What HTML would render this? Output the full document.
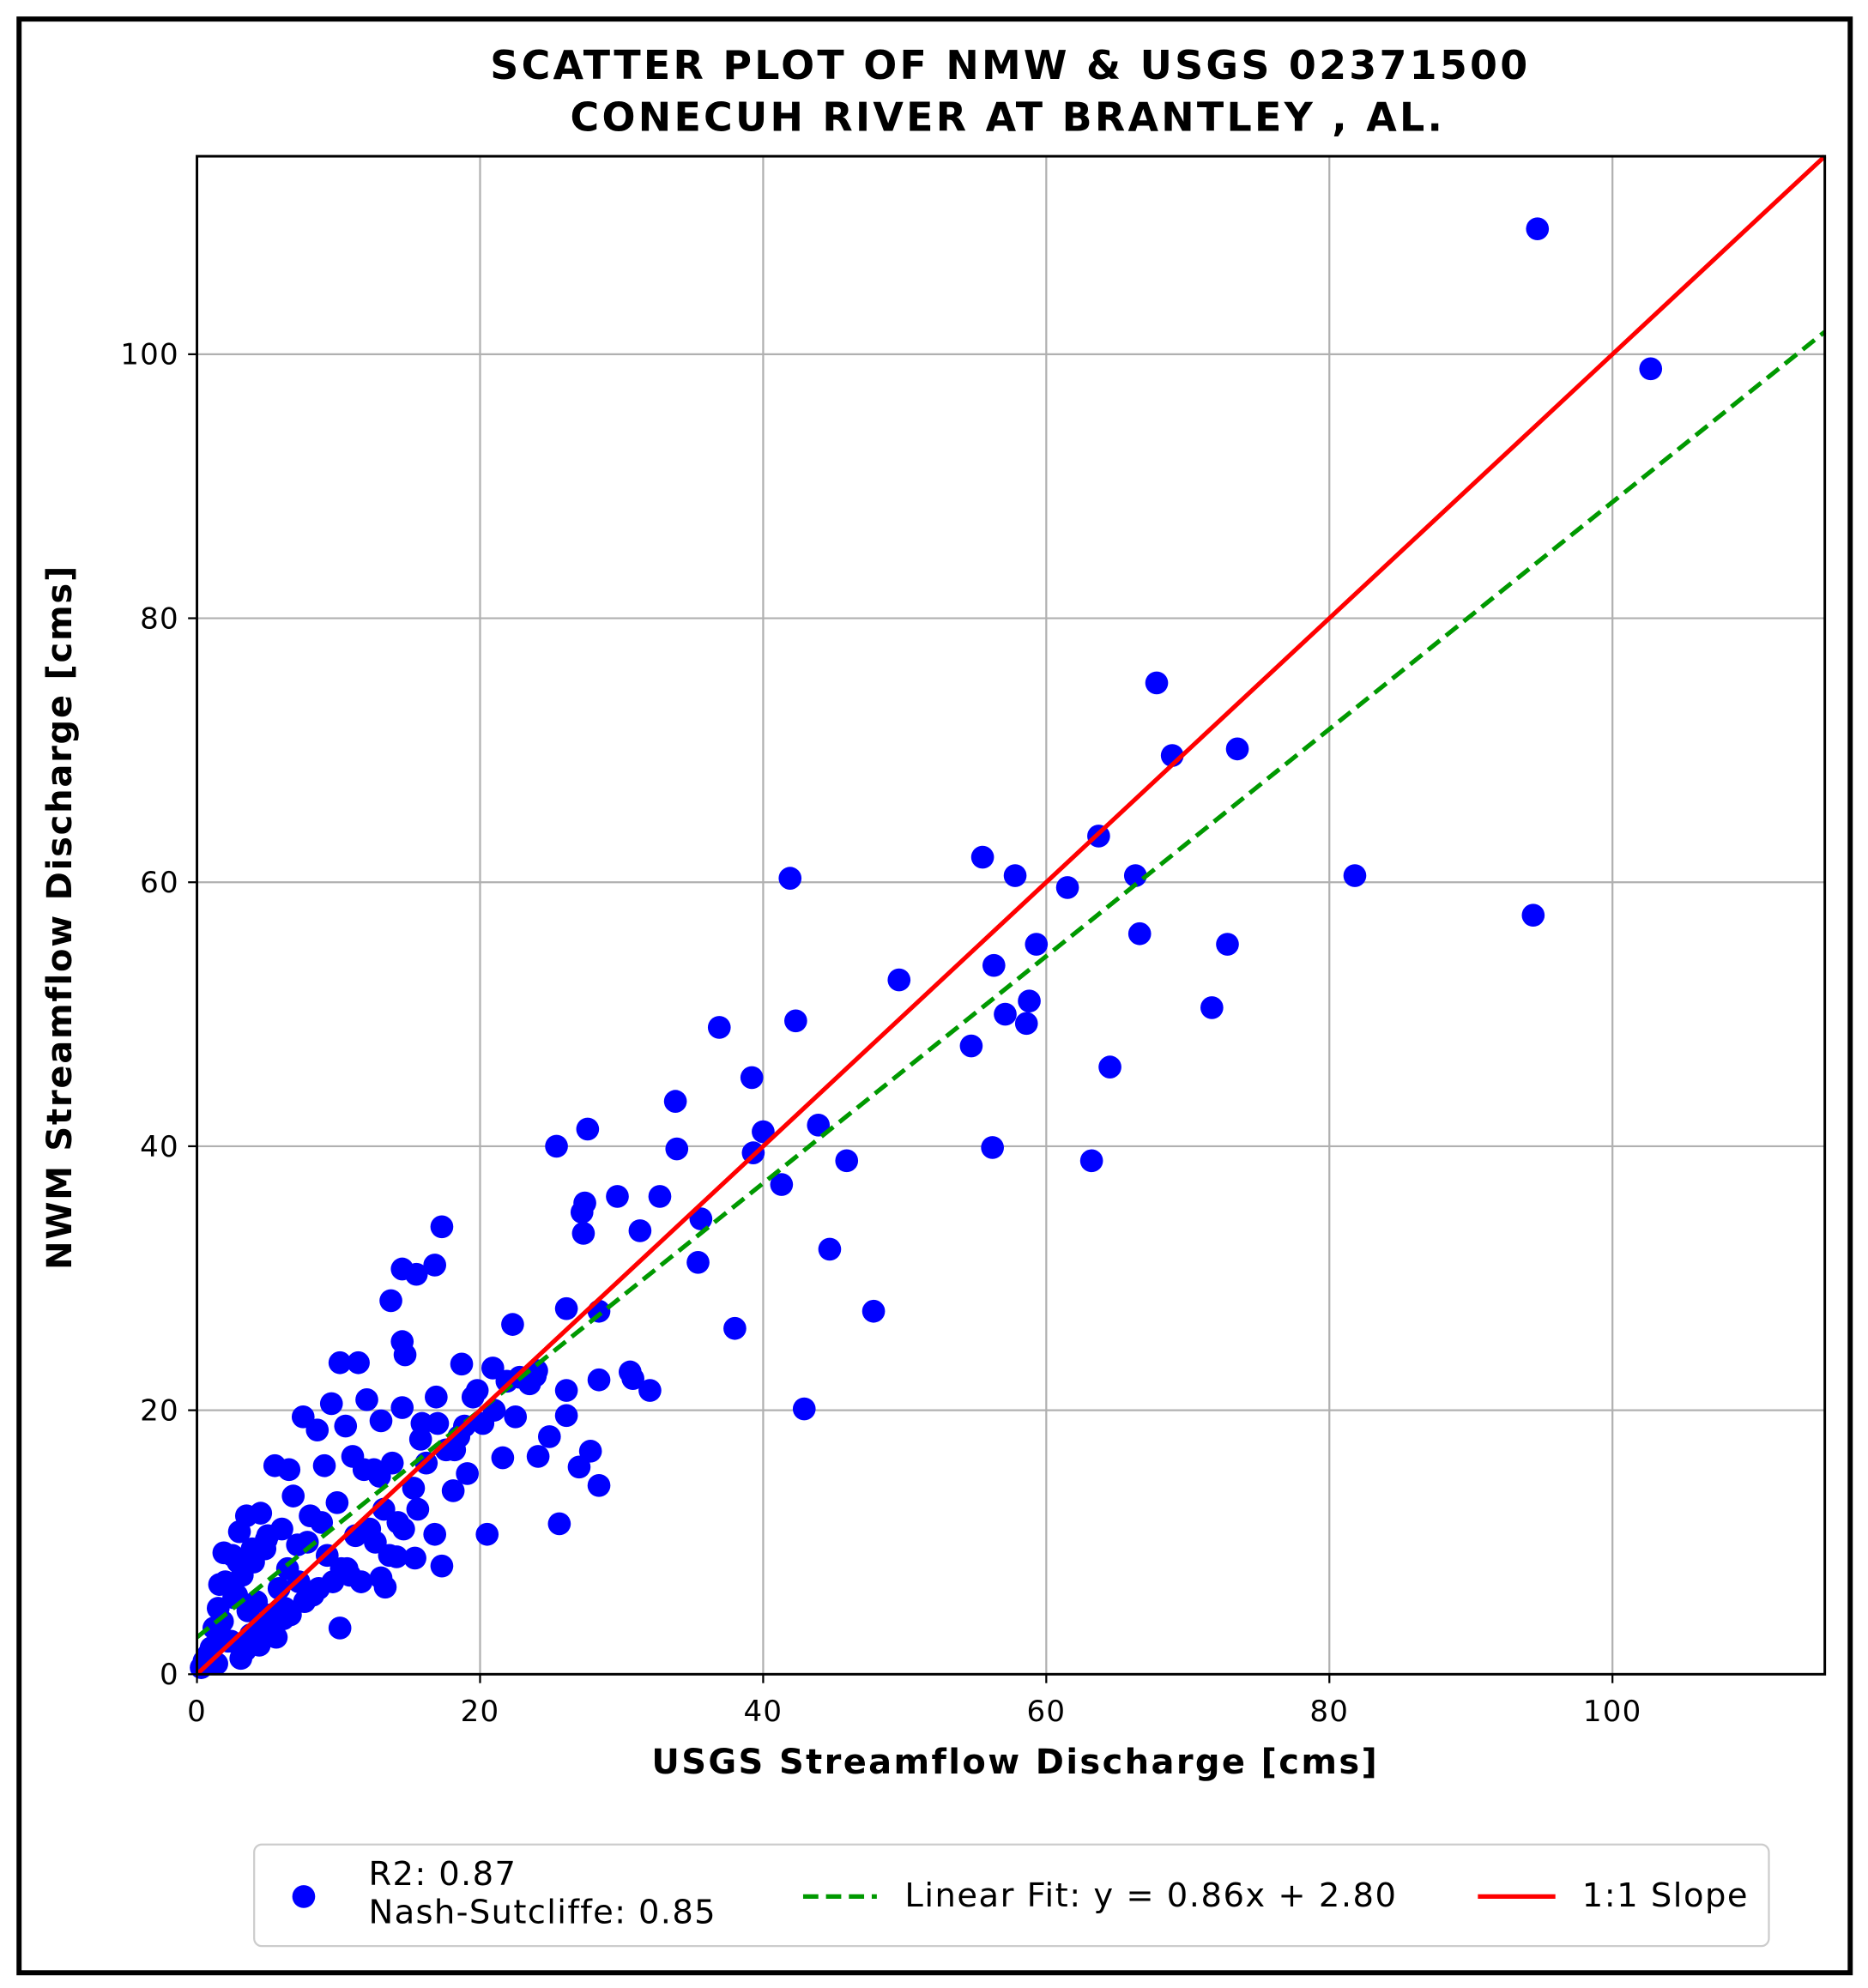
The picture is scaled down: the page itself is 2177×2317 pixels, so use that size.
<!DOCTYPE html>
<html><head><meta charset="utf-8"><style>
html,body{margin:0;padding:0;background:#fff;}
svg{display:block;font-family:"DejaVu Sans","Liberation Sans",sans-serif;}
</style></head><body>
<svg id="chart" width="2177" height="2317" viewBox="0 0 1470 1565" preserveAspectRatio="none" xmlns="http://www.w3.org/2000/svg">
<rect x="0" y="0" width="1470" height="1565" fill="#fff"/>
<rect x="15" y="15" width="1441" height="1538" fill="none" stroke="#000" stroke-width="4"/>
<text x="795" y="62" text-anchor="middle" font-size="31" font-weight="bold" letter-spacing="2.2">SCATTER PLOT OF NMW &amp; USGS 02371500</text>
<text x="793" y="103" text-anchor="middle" font-size="31" font-weight="bold" letter-spacing="2.2">CONECUH RIVER AT BRANTLEY , AL.</text>
<g id="grid"></g>
<g id="marks"></g>
<g id="lines"></g>
<rect x="155" y="123" width="1281" height="1195" fill="none" stroke="#000" stroke-width="2"/>
<g id="ticks"></g>
<text x="799" y="1396" text-anchor="middle" font-size="27" font-weight="bold" letter-spacing="1.6">USGS Streamflow Discharge [cms]</text>
<text transform="translate(56,722) rotate(-90)" text-anchor="middle" font-size="27" font-weight="bold" letter-spacing="1.2">NWM Streamflow Discharge [cms]</text>
<g>
<rect x="200" y="1452" width="1192" height="80" rx="6" fill="#fff" stroke="#ccc" stroke-width="1.5"/>
<circle cx="239" cy="1493" r="9" fill="#0000ff"/>
<text x="290" y="1484" font-size="26" letter-spacing="0.9">R2: 0.87</text>
<text x="290" y="1514" font-size="26" letter-spacing="0.9">Nash-Sutcliffe: 0.85</text>
<line x1="632" y1="1493" x2="690" y2="1493" stroke="#009900" stroke-width="3.5" stroke-dasharray="12,6"/>
<text x="712" y="1501" font-size="26" letter-spacing="1.0">Linear Fit: y = 0.86x + 2.80</text>
<line x1="1163" y1="1493" x2="1224" y2="1493" stroke="#ff0000" stroke-width="3.5"/>
<text x="1245" y="1501" font-size="26" letter-spacing="1.0">1:1 Slope</text>
</g>
</svg>
<script>
const xTicks = [0,20,40,60,80,100];
const yTicks = [0,20,40,60,80,100];
const xVals = [94.7,102.7,67.8,68.9,73.5,63.7,55.5,57.8,66.3,81.8,41.9,61.5,94.4,66.6,59.3,72.8,56.3,49.6,58.8,57.1,71.7,58.6,42.3,36.9,54.7,64.5,39.2,33.8,43.9,40.0,27.6,25.4,33.9,39.3,56.2,45.9,63.2,41.3,32.7,29.7,27.4,27.2,31.3,27.3,35.6,17.3,44.7,35.4,16.8,14.5,15.5,26.1,28.4,47.8,13.7,38.0,22.3,14.5,14.7,10.1,11.4,18.7,20.9,30.6,30.8,32.0,28.4,24.0,42.9,20.5,25.6,28.4,27.8,27.0,24.9,26.1,26.1,24.1,21.6,19.1,18.1,16.8,17.3,15.3,15.4,14.1,13.3,13.0,10.1,
 7.5,8.5,9.5,10.5,12.0,13.0,14.5,15.8,17.0,18.5,19.5,21.0,22.5,23.5,12.5,11.0,9.0,6.5,8.0,5.5,6.0,6.8,4.5,5.0,3.5,3.0,2.5,4.0,2.0,1.5,1.2,2.8,3.2,4.8,5.8,6.2,7.2,8.2,9.2,10.2,11.2,12.2,13.2,14.2,16.2,18.2,20.2,19.8,22.8,8.8,7.8,6.4,5.2,4.2,3.8,2.2,1.8,1.0,0.5,0.8,1.4,2.4,3.4,4.4,5.4,6.6,7.6,8.6,9.6,10.6,11.6,12.6,13.6,14.6,15.6,17.6,9.9,11.8,13.8,5.6,4.6,3.6,2.6,1.6,0.3,3.1,4.1,5.1,6.1,7.1,2.9,3.9,4.9,1.9,10.8,12.9,15.9,16.9,18.9,21.9,23.9];
const yVals = [109.5,98.9,75.1,69.6,70.1,63.5,61.9,60.5,60.5,60.5,60.3,59.6,57.5,56.1,55.3,55.3,53.7,52.6,51.0,50.0,50.5,49.3,49.5,49.0,47.6,46.0,45.2,43.4,41.6,41.1,41.3,40.0,39.8,39.5,39.9,38.9,38.9,37.1,36.2,36.2,35.7,35.0,33.6,33.4,34.5,33.9,32.2,31.2,31.0,30.7,30.3,27.7,27.5,27.5,28.3,26.2,26.5,25.2,24.2,23.6,23.6,23.5,23.2,22.9,22.4,21.5,22.3,23.0,20.1,10.6,11.4,14.3,16.9,15.7,18.0,19.6,21.5,16.5,16.4,15.2,13.9,10.6,8.2,14.1,8.8,8.9,6.6,7.3,3.5,
 19.5,18.5,20.5,18.8,20.8,19.2,20.2,17.8,19.0,18.0,21.0,20.0,19.5,22.0,15.5,16.5,15.8,15.5,12.0,15.8,11.0,13.5,12.2,10.5,12.0,10.8,9.0,8.5,7.0,5.0,3.5,6.0,7.5,9.5,6.5,5.0,7.0,6.0,9.0,8.0,10.5,11.0,12.5,11.5,16.0,17.0,19.0,21.5,22.5,11.5,10.0,8.0,4.5,5.5,3.0,2.5,4.0,2.0,1.0,1.5,0.8,2.5,1.8,2.2,3.0,4.5,5.5,6.5,7.0,8.0,7.0,10.0,9.0,11.0,12.5,17.0,13.0,15.5,16.0,2.8,3.8,4.8,5.8,6.8,0.5,1.2,2.8,3.5,4.2,9.8,8.5,9.5,10.2,9.2,7.5,15.0,19.0,21.0,18.8,22.2,22.6];
const fitSlope = [0.86];
const fitIntercept = [2.80];
const axisMax = [115,115];

const L=155,R=1436,T=123,B=1318;
const sx=v=>L+v*(R-L)/axisMax[0];
const sy=v=>B-v*(B-T)/axisMax[1];
const NS='http://www.w3.org/2000/svg';
function mk(tag,attrs,parent){const e=document.createElementNS(NS,tag);for(const k in attrs)e.setAttribute(k,attrs[k]);parent.appendChild(e);return e;}
const grid=document.getElementById('grid'),ticks=document.getElementById('ticks'),marks=document.getElementById('marks'),lines=document.getElementById('lines');
xTicks.forEach(v=>{
 const g=mk('line',{x1:sx(v),x2:sx(v),y1:T,y2:B,stroke:'#b0b0b0','stroke-width':1.5},grid);
 
 
 const t=mk('line',{x1:sx(v),x2:sx(v),y1:B,y2:B+7,stroke:'#000','stroke-width':1.5},ticks);
 
 
 const lb=mk('text',{x:sx(v),y:B+37,'text-anchor':'middle','font-size':23,'letter-spacing':0.8},ticks);
 lb.textContent=v;
 
 
});
yTicks.forEach(v=>{
 const g=mk('line',{x1:L,x2:R,y1:sy(v),y2:sy(v),stroke:'#b0b0b0','stroke-width':1.5},grid);
 
 
 const t=mk('line',{x1:L-7,x2:L,y1:sy(v),y2:sy(v),stroke:'#000','stroke-width':1.5},ticks);
 
 
 const lb=mk('text',{x:L-14,y:sy(v)+8,'text-anchor':'end','font-size':23,'letter-spacing':0.8},ticks);
 lb.textContent=v;
 
 
});
xVals.forEach((x,i)=>{
 const c=mk('circle',{cx:sx(x),cy:sy(yVals[i]),r:9,fill:'#0000ff'},marks);
 
 
});
const fit=mk('line',{x1:sx(0),y1:sy(fitIntercept[0]),x2:sx(axisMax[0]),y2:sy(fitSlope[0]*axisMax[0]+fitIntercept[0]),stroke:'#009900','stroke-width':3.5,'stroke-dasharray':'12,6'},lines);


const one=mk('line',{x1:sx(0),y1:sy(0),x2:sx(axisMax[0]),y2:sy(axisMax[0]),stroke:'#ff0000','stroke-width':3.5},lines);


</script>
</body></html>
